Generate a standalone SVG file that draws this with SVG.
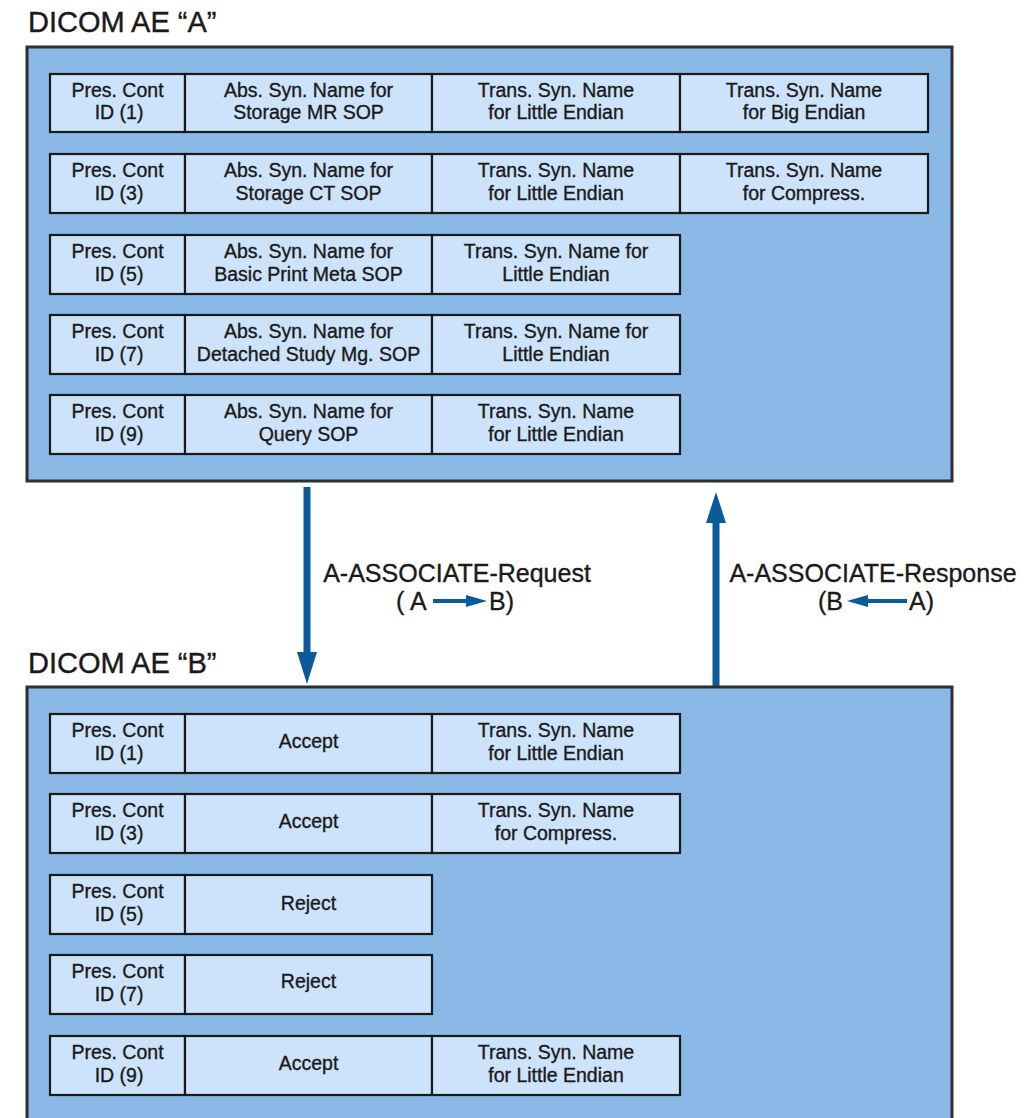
<svg xmlns="http://www.w3.org/2000/svg" width="1033" height="1118" viewBox="0 0 1033 1118">
  <style>
    .title { font-family: "Liberation Sans", Arial, sans-serif; font-size: 29px; fill: #1a1a1a; stroke: #1a1a1a; stroke-width: 0.4; }
    .panel { fill: #8ab9e8; stroke: #2e2e2e; stroke-width: 3; }
    .cell { fill: #cde3fb; stroke: #1a1a1a; stroke-width: 2.2; }
    .t { font-family: "Liberation Sans", Arial, sans-serif; font-size: 19.5px; fill: #1a1a1a; stroke: #1a1a1a; stroke-width: 0.35; text-anchor: middle; }
    .lbl { font-family: "Liberation Sans", Arial, sans-serif; font-size: 25px; fill: #1a1a1a; stroke: #1a1a1a; stroke-width: 0.35; }
    .mid { text-anchor: middle; }
    .flow { stroke: #0b5a9a; stroke-width: 7; fill: none; }
    .mini { stroke: #0b5a9a; stroke-width: 4; fill: none; }
    .head { fill: #0b5a9a; }
  </style>

  <!-- Application entity A: proposed presentation contexts -->
  <text class="title" x="28" y="32">DICOM AE “A”</text>
  <g id="ae-a">
    <rect class="panel" x="27" y="47" width="925" height="434"/>
  </g>

  <g id="a-pc1">
    <rect class="cell" x="50" y="74" width="135" height="58"/>
    <rect class="cell" x="185" y="74" width="247" height="58"/>
    <rect class="cell" x="432" y="74" width="248" height="58"/>
    <rect class="cell" x="680" y="74" width="248" height="58"/>
    <text class="t" x="117.5" y="97">Pres. Cont</text><text class="t" x="119" y="119">ID (1)</text>
    <text class="t" x="308.5" y="97">Abs. Syn. Name for</text><text class="t" x="308.5" y="119">Storage MR SOP</text>
    <text class="t" x="556" y="97">Trans. Syn. Name</text><text class="t" x="556" y="119">for Little Endian</text>
    <text class="t" x="804" y="97">Trans. Syn. Name</text><text class="t" x="804" y="119">for Big Endian</text>
  </g>

  <g id="a-pc3">
    <rect class="cell" x="50" y="154" width="135" height="59"/>
    <rect class="cell" x="185" y="154" width="247" height="59"/>
    <rect class="cell" x="432" y="154" width="248" height="59"/>
    <rect class="cell" x="680" y="154" width="248" height="59"/>
    <text class="t" x="117.5" y="177">Pres. Cont</text><text class="t" x="119" y="200">ID (3)</text>
    <text class="t" x="308.5" y="177">Abs. Syn. Name for</text><text class="t" x="308.5" y="200">Storage CT SOP</text>
    <text class="t" x="556" y="177">Trans. Syn. Name</text><text class="t" x="556" y="200">for Little Endian</text>
    <text class="t" x="804" y="177">Trans. Syn. Name</text><text class="t" x="804" y="200">for Compress.</text>
  </g>

  <g id="a-pc5">
    <rect class="cell" x="50" y="235" width="135" height="59"/>
    <rect class="cell" x="185" y="235" width="247" height="59"/>
    <rect class="cell" x="432" y="235" width="248" height="59"/>
    <text class="t" x="117.5" y="258">Pres. Cont</text><text class="t" x="119" y="281">ID (5)</text>
    <text class="t" x="308.5" y="258">Abs. Syn. Name for</text><text class="t" x="308.5" y="281">Basic Print Meta SOP</text>
    <text class="t" x="556" y="258">Trans. Syn. Name for</text><text class="t" x="556" y="281">Little Endian</text>
  </g>

  <g id="a-pc7">
    <rect class="cell" x="50" y="315" width="135" height="59"/>
    <rect class="cell" x="185" y="315" width="247" height="59"/>
    <rect class="cell" x="432" y="315" width="248" height="59"/>
    <text class="t" x="117.5" y="338">Pres. Cont</text><text class="t" x="119" y="361">ID (7)</text>
    <text class="t" x="308.5" y="338">Abs. Syn. Name for</text><text class="t" x="308.5" y="361">Detached Study Mg. SOP</text>
    <text class="t" x="556" y="338">Trans. Syn. Name for</text><text class="t" x="556" y="361">Little Endian</text>
  </g>

  <g id="a-pc9">
    <rect class="cell" x="50" y="395" width="135" height="59"/>
    <rect class="cell" x="185" y="395" width="247" height="59"/>
    <rect class="cell" x="432" y="395" width="248" height="59"/>
    <text class="t" x="117.5" y="418">Pres. Cont</text><text class="t" x="119" y="441">ID (9)</text>
    <text class="t" x="308.5" y="418">Abs. Syn. Name for</text><text class="t" x="308.5" y="441">Query SOP</text>
    <text class="t" x="556" y="418">Trans. Syn. Name</text><text class="t" x="556" y="441">for Little Endian</text>
  </g>

  <!-- Association request / response -->
  <g id="connectors">
    <line class="flow" x1="307" y1="487" x2="307" y2="654"/>
    <polygon class="head" points="297,652 317,652 307,684"/>
    <line class="flow" x1="716" y1="688" x2="716" y2="520"/>
    <polygon class="head" points="706,523 726,523 716,492"/>

    <text class="lbl mid" x="457" y="582">A-ASSOCIATE-Request</text>
    <text class="lbl" x="396" y="610">( A</text>
    <line class="mini" x1="433" y1="601" x2="468" y2="601"/>
    <polygon class="head" points="466,595 487,601 466,607"/>
    <text class="lbl" x="489" y="610">B)</text>

    <text class="lbl mid" x="873" y="582">A-ASSOCIATE-Response</text>
    <text class="lbl" x="818" y="610">(B</text>
    <polygon class="head" points="847,601 868,595 868,607"/>
    <line class="mini" x1="866" y1="601" x2="907" y2="601"/>
    <text class="lbl" x="909" y="610">A)</text>
  </g>

  <!-- Application entity B: accepted / rejected contexts -->
  <text class="title" x="28" y="673">DICOM AE “B”</text>
  <g id="ae-b">
    <rect class="panel" x="27" y="687" width="925" height="450"/>
  </g>

  <g id="b-pc1">
    <rect class="cell" x="50" y="714" width="135" height="59"/>
    <rect class="cell" x="185" y="714" width="247" height="59"/>
    <rect class="cell" x="432" y="714" width="248" height="59"/>
    <text class="t" x="117.5" y="737">Pres. Cont</text><text class="t" x="119" y="760">ID (1)</text>
    <text class="t" x="308.5" y="748">Accept</text>
    <text class="t" x="556" y="737">Trans. Syn. Name</text><text class="t" x="556" y="760">for Little Endian</text>
  </g>

  <g id="b-pc3">
    <rect class="cell" x="50" y="794" width="135" height="59"/>
    <rect class="cell" x="185" y="794" width="247" height="59"/>
    <rect class="cell" x="432" y="794" width="248" height="59"/>
    <text class="t" x="117.5" y="817">Pres. Cont</text><text class="t" x="119" y="840">ID (3)</text>
    <text class="t" x="308.5" y="828">Accept</text>
    <text class="t" x="556" y="817">Trans. Syn. Name</text><text class="t" x="556" y="840">for Compress.</text>
  </g>

  <g id="b-pc5">
    <rect class="cell" x="50" y="875" width="135" height="59"/>
    <rect class="cell" x="185" y="875" width="247" height="59"/>
    <text class="t" x="117.5" y="898">Pres. Cont</text><text class="t" x="119" y="921">ID (5)</text>
    <text class="t" x="308.5" y="910">Reject</text>
  </g>

  <g id="b-pc7">
    <rect class="cell" x="50" y="955" width="135" height="59"/>
    <rect class="cell" x="185" y="955" width="247" height="59"/>
    <text class="t" x="117.5" y="978">Pres. Cont</text><text class="t" x="119" y="1001">ID (7)</text>
    <text class="t" x="308.5" y="988">Reject</text>
  </g>

  <g id="b-pc9">
    <rect class="cell" x="50" y="1036" width="135" height="59"/>
    <rect class="cell" x="185" y="1036" width="247" height="59"/>
    <rect class="cell" x="432" y="1036" width="248" height="59"/>
    <text class="t" x="117.5" y="1059">Pres. Cont</text><text class="t" x="119" y="1082">ID (9)</text>
    <text class="t" x="308.5" y="1070">Accept</text>
    <text class="t" x="556" y="1059">Trans. Syn. Name</text><text class="t" x="556" y="1082">for Little Endian</text>
  </g>
</svg>
